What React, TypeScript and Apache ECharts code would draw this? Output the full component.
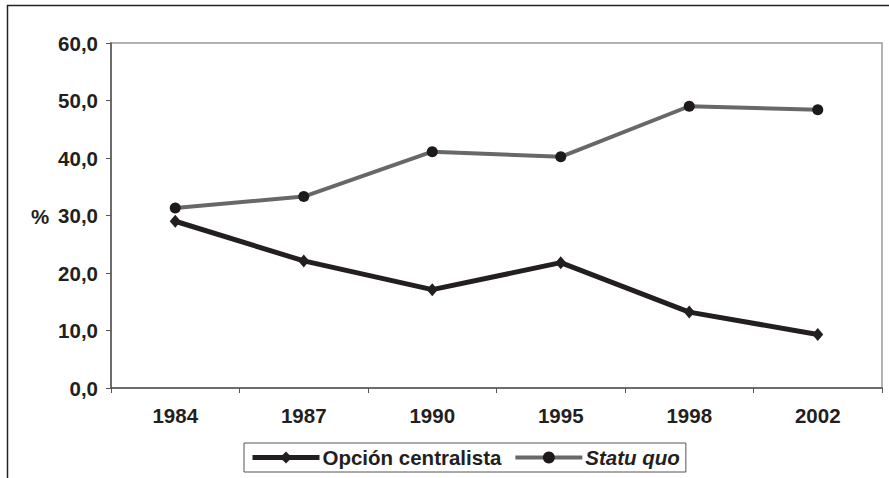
import React, { useEffect, useRef } from "react";
import * as echarts from "echarts";

const years = ["1984", "1987", "1990", "1995", "1998", "2002"];
const opcionCentralista = [29.0, 22.1, 17.1, 21.8, 13.2, 9.3];
const statuQuo = [31.3, 33.3, 41.1, 40.2, 49.0, 48.4];
const seriesNames = ["Opción centralista", "Statu quo"];

const FONT = "Arial, 'Liberation Sans', sans-serif";
const TXT = "#231f20";

export default function App() {
  const ref = useRef<HTMLDivElement>(null);
  useEffect(() => {
    if (!ref.current) return;
    const chart = echarts.init(ref.current, null, { renderer: "svg" });
    chart.setOption({
      animation: false,
      backgroundColor: "#ffffff",
      grid: {
        left: 111,
        top: 43,
        right: 7,
        bottom: 90,
        show: true,
        borderColor: "#9a9a9a",
        borderWidth: 1.5,
        backgroundColor: "transparent",
      },
      xAxis: {
        type: "category",
        data: years,
        boundaryGap: true,
        axisLine: { lineStyle: { color: "#555", width: 1.5 } },
        axisTick: { show: true, length: 5, inside: false, lineStyle: { color: "#555" } },
        axisLabel: {
          color: TXT,
          fontFamily: FONT,
          fontWeight: "bold",
          fontSize: 20.5,
          margin: 17,
        },
      },
      yAxis: {
        type: "value",
        min: 0,
        max: 60,
        interval: 10,
        splitLine: { show: false },
        axisLine: { show: true, lineStyle: { color: "#555", width: 1.5 } },
        axisTick: { show: true, length: 5, inside: false, lineStyle: { color: "#555" } },
        axisLabel: {
          color: TXT,
          fontFamily: FONT,
          fontWeight: "bold",
          fontSize: 20.5,
          margin: 13,
          formatter: (v: number) => v.toFixed(1).replace(".", ","),
        },
      },
      legend: {
        left: 244,
        top: 443,
        width: 480,
        padding: [4, 6, 4, 6],
        itemGap: 12,
        itemWidth: 67,
        itemHeight: 15,
        borderColor: "#555",
        borderWidth: 1,
        textStyle: {
          color: TXT,
          fontFamily: FONT,
          fontWeight: "bold",
          fontSize: 20.5,
          padding: [0, 0, 0, -2],
        },
        data: [
          {
            name: seriesNames[0],
            lineStyle: { width: 5, color: "#231f20" },
          },
          {
            name: seriesNames[1],
            lineStyle: { width: 4, color: "#686868" },
            textStyle: { fontStyle: "italic" },
          },
        ],
      },
      graphic: [
        {
          type: "rect",
          left: 5,
          top: 3,
          shape: { x: 0, y: 0, width: 1000, height: 1000 },
          style: { fill: "none", stroke: "#222", lineWidth: 1.5 },
          silent: true,
        },
        {
          type: "text",
          left: 31,
          top: 206,
          style: {
            text: "%",
            fill: TXT,
            font: `bold 20.5px ${FONT}`,
          },
        },
      ],
      series: [
        {
          name: seriesNames[0],
          type: "line",
          data: opcionCentralista,
          symbol: "diamond",
          symbolSize: [11, 13],
          lineStyle: { color: "#231f20", width: 5 },
          itemStyle: { color: "#231f20" },
          z: 3,
        },
        {
          name: seriesNames[1],
          type: "line",
          data: statuQuo,
          symbol: "circle",
          symbolSize: 11,
          lineStyle: { color: "#686868", width: 4 },
          itemStyle: { color: "#1e1a1a" },
          z: 2,
        },
      ],
    });
    return () => chart.dispose();
  }, []);
  return (
    <div
      ref={ref}
      style={{ position: "fixed", left: 0, top: 0, width: 889, height: 478 }}
    />
  );
}
